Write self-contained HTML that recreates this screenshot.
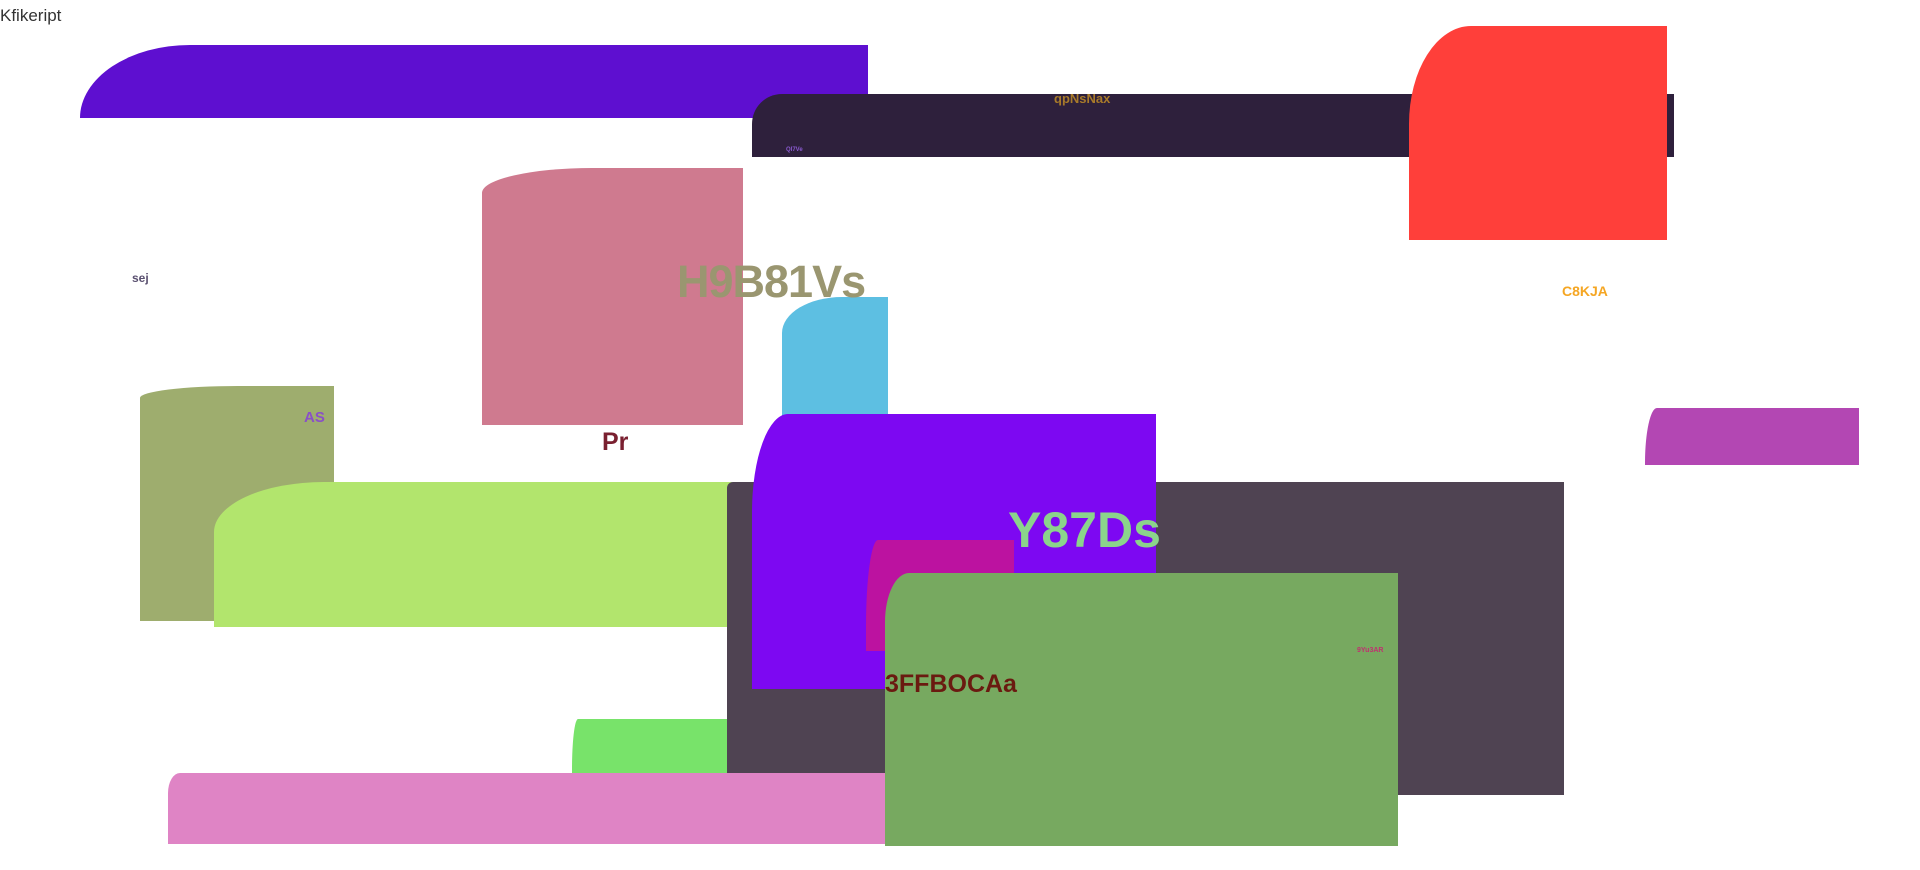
<!DOCTYPE html>
<html><head><style>
body{margin:0;width:1920px;height:870px;background:#fff;position:relative;overflow:hidden;font-family:"Liberation Sans",sans-serif}
.b{position:absolute}
.t{position:absolute;font-weight:bold;white-space:nowrap;line-height:1}
</style></head><body>
<div class="t" style="left:0;top:7px;font-weight:normal;font-size:17px;color:#333">Kfikeript</div>
<div class="b" style="left:80px;top:45px;width:788px;height:73px;background:#5E0FD0;border-top-left-radius:110px 73px"></div>
<div class="b" style="left:752px;top:94px;width:922px;height:63px;background:#2E203C;border-top-left-radius:30px 30px"></div>
<div class="b" style="left:1409px;top:26px;width:258px;height:214px;background:#FF3F3A;border-top-left-radius:62px 98px"></div>
<div class="b" style="left:482px;top:168px;width:261px;height:257px;background:#CF7A8F;border-top-left-radius:110px 25px"></div>
<div class="b" style="left:782px;top:297px;width:106px;height:140px;background:#5DBFE2;border-top-left-radius:60px 36px"></div>
<div class="b" style="left:140px;top:386px;width:194px;height:235px;background:#9EAD6E;border-top-left-radius:98px 12px"></div>
<div class="b" style="left:1645px;top:408px;width:214px;height:57px;background:#B347B3;border-top-left-radius:12px 55px"></div>
<div class="b" style="left:572px;top:719px;width:160px;height:80px;background:#78E36A;border-top-left-radius:6px 50px"></div>
<div class="b" style="left:214px;top:482px;width:518px;height:145px;background:#B2E56D;border-top-left-radius:110px 50px"></div>
<div class="b" style="left:727px;top:482px;width:837px;height:313px;background:#4F4352;border-top-left-radius:6px 6px"></div>
<div class="b" style="left:752px;top:414px;width:404px;height:275px;background:#7D08F2;border-top-left-radius:36px 98px"></div>
<div class="b" style="left:866px;top:540px;width:148px;height:111px;background:#BC12A0;border-top-left-radius:12px 86px"></div>
<div class="b" style="left:168px;top:773px;width:730px;height:71px;background:#DF84C5;border-top-left-radius:12px 20px"></div>
<div class="b" style="left:885px;top:573px;width:513px;height:273px;background:#77A960;border-top-left-radius:24px 49px"></div>
<div class="t" style="left:1054px;top:92px;font-size:13px;color:#A87A2A">qpNsNax</div>
<div class="t" style="left:786px;top:147px;font-size:6px;color:#8A5AD0">QI7Ve</div>
<div class="t" style="left:677px;top:259px;font-size:45px;letter-spacing:-1px;color:#9A9670">H9B81Vs</div>
<div class="t" style="left:132px;top:272px;font-size:12px;color:#5A5070">sej</div>
<div class="t" style="left:1562px;top:284px;font-size:14px;color:#F5A623">C8KJA</div>
<div class="t" style="left:304px;top:410px;font-size:15px;color:#8A4FC8">AS</div>
<div class="t" style="left:602px;top:430px;font-size:25px;color:#7A2030">Pr</div>
<div class="t" style="left:1008px;top:505px;font-size:50px;color:#8BD48B">Y87Ds</div>
<div class="t" style="left:885px;top:672px;font-size:25px;color:#6A1A10">3FFBOCAa</div>
<div class="t" style="left:1357px;top:647px;font-size:7px;color:#C03070">9Yu3AR</div>
</body></html>
